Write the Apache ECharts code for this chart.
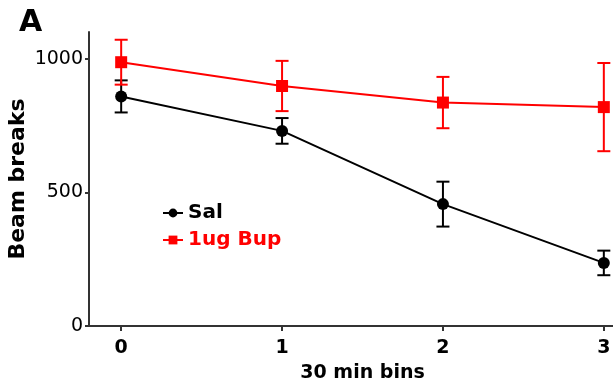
<!DOCTYPE html>
<html>
<head>
<meta charset="utf-8">
<script src="https://cdn.jsdelivr.net/npm/echarts@6/dist/echarts.min.js"></script>
<style>
  html, body { margin: 0; padding: 0; background: #fff; }
  #chart { width: 613px; height: 383px; }
</style>
</head>
<body>
<div id="chart"></div>
<script>
// Beam breaks per 30-min bin, mean ± SEM
const bins = [0, 1, 2, 3];
const salMean = [859, 730, 456, 236];
const salSem = [60, 48, 84, 46];
const bupMean = [987, 898, 836, 819];
const bupSem = [84, 94, 96, 165];
const yTicks = [0, 500, 1000];
const xTicks = [0, 1, 2, 3];

const FONT = 'DejaVu Sans';
const AXIS_COLOR = '#333';

function errorSeries(id, means, sems, color) {
  const data = bins.map((b, i) => [b, means[i] - sems[i], means[i] + sems[i]]);
  return {
    type: 'custom',
    id: id,
    z: 2,
    silent: true,
    data: data,
    encode: { x: 0, y: [1, 2] },
    renderItem: function (params, api) {
      const x = api.value(0);
      const lo = api.coord([x, api.value(1)]);
      const hi = api.coord([x, api.value(2)]);
      const half = 6.5;
      const style = { stroke: color, lineWidth: 2, fill: null };
      return {
        type: 'group',
        children: [
          { type: 'line', shape: { x1: lo[0], y1: lo[1], x2: hi[0], y2: hi[1] }, style: style },
          { type: 'line', shape: { x1: lo[0] - half, y1: lo[1], x2: lo[0] + half, y2: lo[1] }, style: style },
          { type: 'line', shape: { x1: hi[0] - half, y1: hi[1], x2: hi[0] + half, y2: hi[1] }, style: style }
        ]
      };
    }
  };
}

const chart = echarts.init(document.getElementById('chart'), null, { renderer: 'canvas' });

chart.setOption({
  animation: false,
  backgroundColor: '#fff',
  title: {
    text: 'A',
    left: 14,
    top: 3,
    textStyle: { fontFamily: FONT, fontWeight: 'bold', fontSize: 30, color: '#000' }
  },
  grid: { left: 89, top: 32, width: 547, height: 294, outerBoundsMode: 'none', containLabel: false },
  legend: {
    orient: 'vertical',
    left: 157,
    top: 198,
    itemWidth: 20,
    itemHeight: 11,
    itemGap: 7,
    textStyle: { fontFamily: FONT, fontWeight: 'bold', fontSize: 20, lineHeight: 20 },
    data: [
      { name: 'Sal', textStyle: { color: '#000' } },
      { name: '1ug Bup', textStyle: { color: '#ff0000' } }
    ]
  },
  xAxis: {
    type: 'value',
    min: -0.2,
    max: 3.2,
    name: '30 min bins',
    nameLocation: 'middle',
    nameGap: 38,
    nameMoveOverlap: false,
    nameTextStyle: { fontFamily: FONT, fontWeight: 'bold', fontSize: 19, color: '#000' },
    axisLine: { onZero: false, lineStyle: { color: AXIS_COLOR, width: 2 } },
    axisTick: { show: true, length: 5, customValues: xTicks, lineStyle: { color: AXIS_COLOR, width: 2 } },
    axisLabel: {
      customValues: xTicks,
      margin: 13,
      fontFamily: FONT, fontWeight: 'bold', fontSize: 19, color: '#000',
      formatter: v => String(v)
    },
    splitLine: { show: false }
  },
  yAxis: {
    type: 'value',
    min: 0,
    max: 1100,
    name: 'Beam breaks',
    nameLocation: 'middle',
    nameGap: 60,
    nameMoveOverlap: false,
    nameTextStyle: { fontFamily: FONT, fontWeight: 'bold', fontSize: 22, color: '#000' },
    axisLine: { show: true, onZero: false, lineStyle: { color: AXIS_COLOR, width: 2 } },
    axisTick: { show: true, length: 4, customValues: yTicks, lineStyle: { color: AXIS_COLOR, width: 2 } },
    axisLabel: {
      customValues: yTicks,
      margin: 6,
      fontFamily: FONT, fontSize: 19, color: '#000',
      formatter: v => String(v)
    },
    splitLine: { show: false }
  },
  series: [
    errorSeries('salErr', salMean, salSem, '#000'),
    errorSeries('bupErr', bupMean, bupSem, '#ff0000'),
    {
      type: 'line',
      name: 'Sal',
      z: 3,
      data: bins.map((b, i) => [b, salMean[i]]),
      symbol: 'circle',
      symbolSize: 12,
      itemStyle: { color: '#000' },
      lineStyle: { color: '#000', width: 2 }
    },
    {
      type: 'line',
      name: '1ug Bup',
      z: 4,
      data: bins.map((b, i) => [b, bupMean[i]]),
      symbol: 'rect',
      symbolSize: 12,
      itemStyle: { color: '#ff0000' },
      lineStyle: { color: '#ff0000', width: 2 }
    }
  ]
});
</script>
</body>
</html>
